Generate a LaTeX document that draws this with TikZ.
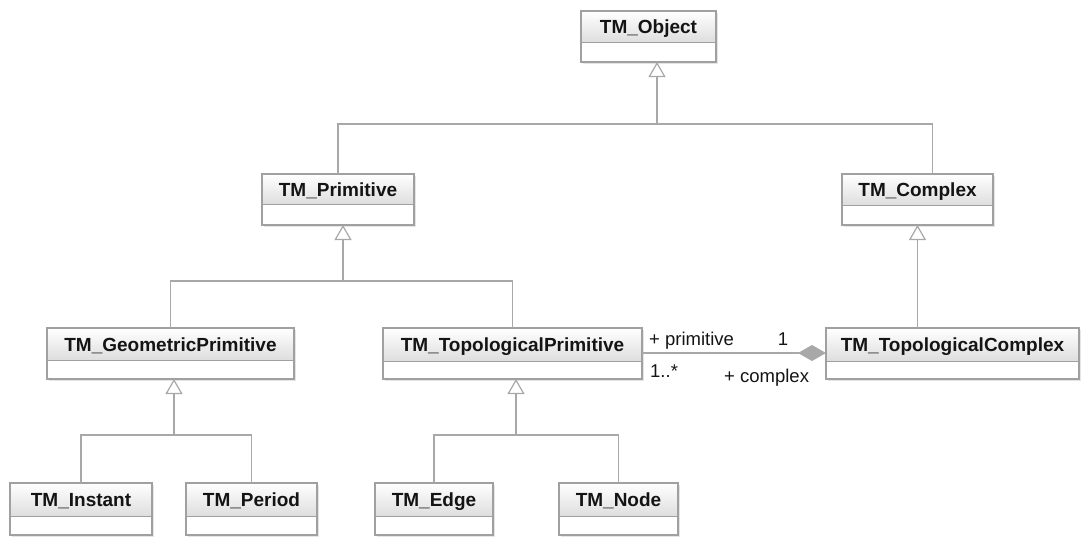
\documentclass[tikz,border=0pt]{standalone}
\usepackage{fontspec}
\setmainfont{Liberation Sans}
\usetikzlibrary{arrows.meta}
\definecolor{edgegray}{HTML}{A8A8A8}
\definecolor{boxgray}{HTML}{A0A0A0}
\definecolor{headgray}{HTML}{DEDEDE}
\definecolor{inkgray}{HTML}{141414}
\tikzset{
  classbox/.style={draw=boxgray, line width=1.2pt, inner sep=0pt, outer sep=0pt},
  classname/.style={font=\bfseries\fontsize{19}{22}\selectfont, text=inkgray, inner sep=0pt, anchor=base},
  rolelabel/.style={font=\fontsize{18.5}{22}\selectfont, text=inkgray, inner sep=0pt},
  link/.style={draw=edgegray, line width=1.2pt},
  generalizes/.style={link, -{Triangle[open, length=15pt, width=17pt, line width=1.2pt]}},
  composes/.style={link, -{Diamond[length=28pt, width=16pt, color=edgegray]}}
}
% UML class: name, left, top, right, separator, bottom, class name
\newcommand\umlclass[7]{%
  \fill[black!10] (#2+2,#3+2) rectangle (#4+2,#6+2);
  \fill[white] (#2,#3) rectangle (#4,#6);
  \shade[top color=white, bottom color=headgray] (#2,#3) rectangle (#4,#5);
  \node[classbox, anchor=north west, minimum width=#4pt-#2pt, minimum height=#6pt-#3pt] (#1) at (#2,#3) {};
  \draw[boxgray, line width=1pt] (#2,#5) -- (#4,#5);
  \node[classname] (#1-name) at ({(#2+#4)/2},{(#3+#5)/2+7}) {#7};
}
\begin{document}
\begin{tikzpicture}[x=1pt, y=-1pt]
  \useasboundingbox (0,0) rectangle (1083,536);

  % classes
  \umlclass{obj}{581}{11}{716}{42}{62}{TM\_Object}
  \umlclass{prim}{262}{174}{414}{204}{225}{TM\_Primitive}
  \umlclass{cplx}{842}{174}{993}{205}{225}{TM\_Complex}
  \umlclass{geo}{47}{328}{294}{360}{379}{TM\_GeometricPrimitive}
  \umlclass{topo}{383}{328}{642}{361}{379}{TM\_TopologicalPrimitive}
  \umlclass{tcx}{826}{328}{1079}{361}{379}{TM\_TopologicalComplex}
  \umlclass{inst}{10}{483}{152}{516}{535}{TM\_Instant}
  \umlclass{per}{186}{483}{317}{516}{535}{TM\_Period}
  \umlclass{edge}{375}{483}{493}{516}{535}{TM\_Edge}
  \umlclass{tnode}{559}{483}{678}{516}{535}{TM\_Node}

  % generalization trees
  \coordinate (j0) at (657,124);
  \draw[link] (prim.north) |- (j0);
  \draw[link] ([xshift=15pt]cplx.north) |- (j0);
  \draw[generalizes] (j0) -- (j0 |- obj.south);

  \coordinate (j1) at (343,281);
  \draw[link] (geo.north) |- (j1);
  \draw[link] (topo.north) |- (j1);
  \draw[generalizes] (j1) -- (j1 |- prim.south);

  \draw[generalizes] (tcx.north -| cplx.south) -- (cplx.south);

  \coordinate (j2) at (174,435);
  \draw[link] (inst.north) |- (j2);
  \draw[link] (per.north) |- (j2);
  \draw[generalizes] (j2) -- (j2 |- geo.south);

  \coordinate (j3) at (516,435);
  \draw[link] (edge.north) |- (j3);
  \draw[link] (tnode.north) |- (j3);
  \draw[generalizes] (j3) -- (j3 |- topo.south);

  % composition between topological primitives and complexes
  \draw[composes] ([yshift=-25pt]topo.north east) -- ([yshift=-25pt]tcx.north west);
  \node[rolelabel, anchor=base west] (rprim) at (649,345) {+ primitive};
  \node[rolelabel, anchor=base] (mone) at (783,345) {1};
  \node[rolelabel, anchor=base west] (mmany) at (650,377) {1..*};
  \node[rolelabel, anchor=base west] (rcplx) at (724,382) {+ complex};
\end{tikzpicture}
\end{document}
